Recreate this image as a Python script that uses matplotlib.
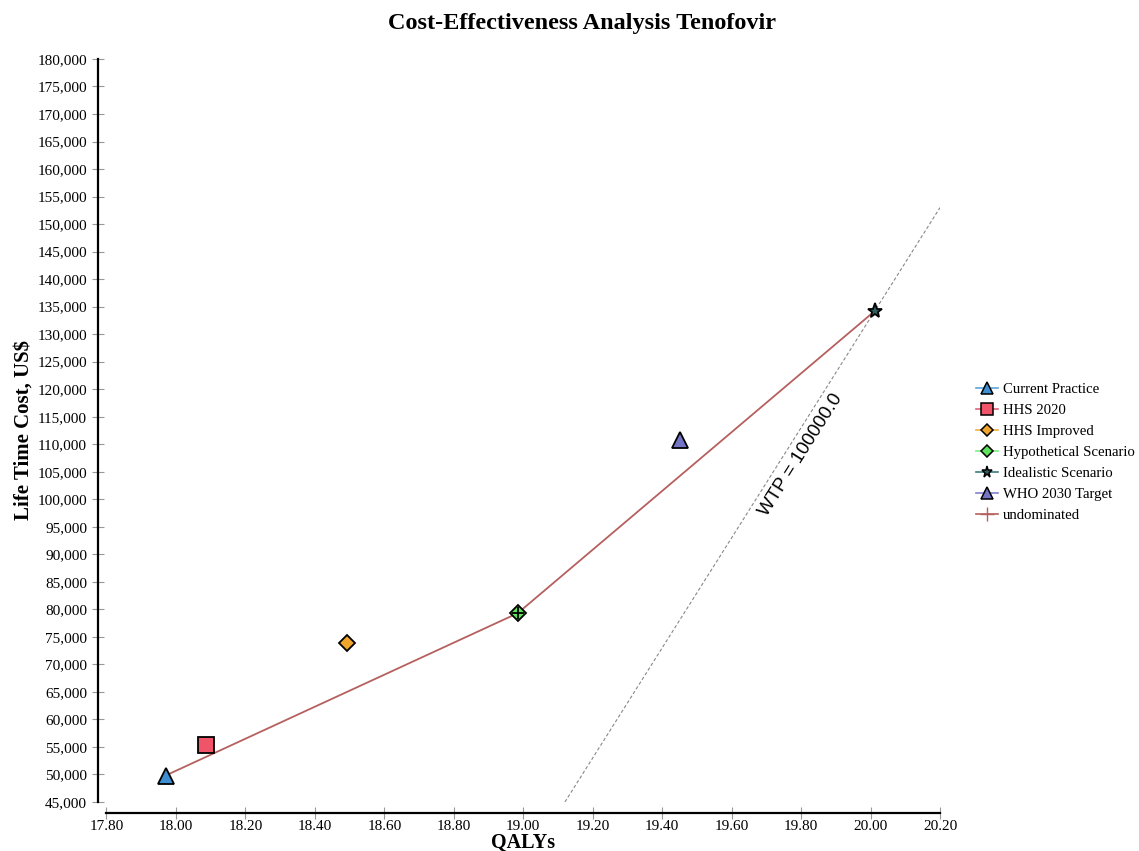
import matplotlib.pyplot as plt
import matplotlib.ticker as ticker
from matplotlib.lines import Line2D

# strategies (QALYs, lifetime cost US$)
estrategias = ["Current Practice", "HHS 2020", "HHS Improved", "Hypothetical Scenario",
               "Idealistic Scenario", "WHO 2030 Target"]
qalys = [17.97, 18.086, 18.492, 18.984, 20.012, 19.450]
costos = [49800, 55300, 73900, 79300, 134200, 110700]

# undominated frontier
frontera = ["Current Practice", "Hypothetical Scenario", "Idealistic Scenario"]

wtp = 100000.0

marcadores = ['^', 's', 'D', 'D', '*', '^']
relleno = ['#3d8fd1', '#f05468', '#f0a52c', '#5ee35e', '#2e5e5e', '#7474c4']
linea_leyenda = ['#5aa5dd', '#e0607a', '#f0b040', '#7ef07e', '#3d7a7a', '#8080cc']
tamanos = [11, 11, 8, 8, 11, 11]
color_frontera = '#b5605e'

plt.rcParams['font.family'] = ['Liberation Serif', 'DejaVu Serif']

fig = plt.figure(figsize=(11.39, 8.51), dpi=100)
ax = fig.add_axes([0.0935, 0.0576, 0.7318, 0.8731])

# frontier line
fx = [qalys[estrategias.index(s)] for s in frontera]
fy = [costos[estrategias.index(s)] for s in frontera]
ax.plot(fx, fy, color=color_frontera, lw=1.3, zorder=2)

# WTP line through the last frontier point
x0, y0 = fx[-1], fy[-1]
x_ini = x0 - (y0 - 45000) / wtp
x_fin = 20.20
ax.plot([x_ini, x_fin], [45000, y0 + (x_fin - x0) * wtp], color='#888888',
        lw=0.8, linestyle=(0, (3, 2)), zorder=1)
ax.text(19.80, 108000, "WTP = 100000.0", rotation=57.7, rotation_mode='anchor',
        ha='center', va='center', fontsize=13.5, family=['Liberation Sans', 'DejaVu Sans'])

for i, s in enumerate(estrategias):
    ax.plot(qalys[i], costos[i], marker=marcadores[i], ms=tamanos[i],
            markerfacecolor=relleno[i], markeredgecolor='black', mew=1.3,
            linestyle='none', zorder=3)
# cross on hypothetical scenario marker
j = estrategias.index("Hypothetical Scenario")
ax.plot(qalys[j], costos[j], marker='+', ms=8, color='black', mew=1.3, zorder=4)

ax.set_xlim(17.80, 20.20)
ax.set_ylim(45000, 180000)
ax.xaxis.set_major_locator(ticker.MultipleLocator(0.2))
ax.yaxis.set_major_locator(ticker.MultipleLocator(5000))
ax.xaxis.set_major_formatter(ticker.FuncFormatter(lambda x, _: f'{x:.2f}'))
ax.yaxis.set_major_formatter(ticker.FuncFormatter(lambda y, _: f'{y:,.0f}'))
ax.tick_params(direction='inout', length=9, width=0.8, color='#999999', labelsize=11)
ax.tick_params(axis='x', pad=0.5)

for lado in ['top', 'right']:
    ax.spines[lado].set_visible(False)
ax.spines['left'].set_position(('outward', 6))
ax.spines['bottom'].set_position(('outward', 8))
ax.spines['left'].set_linewidth(1.6)
ax.spines['bottom'].set_linewidth(1.6)

ax.set_xlabel("QALYs", fontsize=14.5, fontweight='bold')
ax.xaxis.set_label_coords(0.5, -0.041)
ax.set_ylabel("Life Time Cost, US$", fontsize=15, fontweight='bold')
ax.yaxis.set_label_coords(-0.087, 0.5)
fig.text(0.511, 0.972, "Cost-Effectiveness Analysis Tenofovir", ha='center', va='center',
         fontsize=17.5, fontweight='bold')

# legend
manijas = []
for i, s in enumerate(estrategias):
    manijas.append(Line2D([], [], color=linea_leyenda[i], lw=1.2, marker=marcadores[i],
                          ms=tamanos[i] * 0.75, markerfacecolor=relleno[i],
                          markeredgecolor='black', mew=1.1, label=s))
manijas.append(Line2D([], [], color=color_frontera, lw=1.2, marker='+', ms=10,
                      label="undominated"))
fig.legend(handles=manijas, loc='upper left', bbox_to_anchor=(0.848, 0.562), frameon=False,
           fontsize=10.6, handlelength=1.5, handletextpad=0.3, labelspacing=0.52,
           borderpad=0.2)

plt.savefig("out.png", dpi=100)
